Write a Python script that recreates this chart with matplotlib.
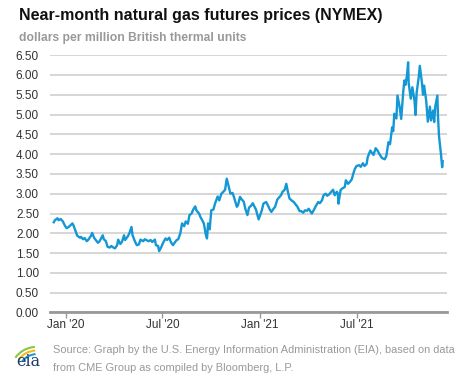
import matplotlib
matplotlib.use("Agg")
import matplotlib.pyplot as plt
from matplotlib.patches import Arc
import pandas as pd

plt.rcParams['font.family'] = ['Liberation Sans', 'DejaVu Sans']

# near-month NYMEX natural gas futures, $/MMBtu
dates = [
    "2019-12-10", "2019-12-12", "2019-12-17", "2019-12-19", "2019-12-23", "2019-12-27", "2019-12-31",
    "2020-01-03", "2020-01-07", "2020-01-10", "2020-01-14", "2020-01-16", "2020-01-21", "2020-01-23",
    "2020-01-28", "2020-01-30", "2020-02-03", "2020-02-06", "2020-02-10", "2020-02-13", "2020-02-18",
    "2020-02-20", "2020-02-24", "2020-02-27", "2020-03-02", "2020-03-05", "2020-03-09", "2020-03-11",
    "2020-03-13", "2020-03-17", "2020-03-20", "2020-03-24", "2020-03-27", "2020-03-31", "2020-04-03",
    "2020-04-07", "2020-04-09", "2020-04-13", "2020-04-16", "2020-04-20", "2020-04-22", "2020-04-27",
    "2020-04-30", "2020-05-04", "2020-05-06", "2020-05-11", "2020-05-14", "2020-05-18", "2020-05-21",
    "2020-05-26", "2020-05-29", "2020-06-02", "2020-06-05", "2020-06-09", "2020-06-12", "2020-06-17",
    "2020-06-19", "2020-06-23", "2020-06-25", "2020-06-29", "2020-07-02", "2020-07-07", "2020-07-10",
    "2020-07-14", "2020-07-17", "2020-07-21", "2020-07-24", "2020-07-28", "2020-07-31", "2020-08-04",
    "2020-08-07", "2020-08-11", "2020-08-14", "2020-08-18", "2020-08-21", "2020-08-25", "2020-08-28",
    "2020-09-01", "2020-09-03", "2020-09-08", "2020-09-11", "2020-09-14", "2020-09-17", "2020-09-21",
    "2020-09-23", "2020-09-25", "2020-09-28", "2020-10-01", "2020-10-05", "2020-10-08", "2020-10-13",
    "2020-10-16", "2020-10-20", "2020-10-23", "2020-10-27", "2020-10-30", "2020-11-03", "2020-11-06",
    "2020-11-10", "2020-11-13", "2020-11-18", "2020-11-20", "2020-11-24", "2020-11-27", "2020-12-01",
    "2020-12-04", "2020-12-08", "2020-12-11", "2020-12-15", "2020-12-18", "2020-12-22", "2020-12-24",
    "2020-12-29", "2021-01-04", "2021-01-07", "2021-01-12", "2021-01-15", "2021-01-19", "2021-01-22",
    "2021-01-26", "2021-01-29", "2021-02-02", "2021-02-05", "2021-02-09", "2021-02-12", "2021-02-16",
    "2021-02-19", "2021-02-22", "2021-02-25", "2021-03-01", "2021-03-05", "2021-03-09", "2021-03-12",
    "2021-03-16", "2021-03-19", "2021-03-23", "2021-03-26", "2021-03-30", "2021-04-02", "2021-04-08",
    "2021-04-13", "2021-04-16", "2021-04-20", "2021-04-23", "2021-04-27", "2021-04-30", "2021-05-04",
    "2021-05-07", "2021-05-11", "2021-05-14", "2021-05-18", "2021-05-21", "2021-05-25", "2021-05-27",
    "2021-05-28", "2021-06-01", "2021-06-04", "2021-06-09", "2021-06-11", "2021-06-15", "2021-06-18",
    "2021-06-22", "2021-06-25", "2021-06-28", "2021-07-01", "2021-07-06", "2021-07-09", "2021-07-13",
    "2021-07-16", "2021-07-20", "2021-07-22", "2021-07-27", "2021-07-29", "2021-08-02", "2021-08-06",
    "2021-08-10", "2021-08-13", "2021-08-18", "2021-08-23", "2021-08-26", "2021-08-30", "2021-09-02",
    "2021-09-06", "2021-09-08", "2021-09-10", "2021-09-14", "2021-09-16", "2021-09-20", "2021-09-23",
    "2021-09-27", "2021-09-29", "2021-10-01", "2021-10-04", "2021-10-06", "2021-10-07", "2021-10-11",
    "2021-10-14", "2021-10-18", "2021-10-20", "2021-10-22", "2021-10-26", "2021-10-28", "2021-11-01",
    "2021-11-03", "2021-11-05", "2021-11-09", "2021-11-12", "2021-11-16", "2021-11-18", "2021-11-22",
    "2021-11-24", "2021-11-26", "2021-11-30", "2021-12-01", "2021-12-03", "2021-12-06", "2021-12-07",
    "2021-12-09", "2021-12-10",
]
prices = [
    2.28, 2.33, 2.38, 2.33, 2.36, 2.30, 2.19,
    2.13, 2.16, 2.20, 2.25, 2.20, 2.02, 1.94,
    1.89, 1.91, 1.85, 1.88, 1.80, 1.84, 1.94,
    2.01, 1.88, 1.83, 1.76, 1.80, 1.90, 1.95,
    1.85, 1.80, 1.66, 1.64, 1.68, 1.64, 1.62,
    1.70, 1.84, 1.73, 1.78, 1.95, 1.83, 1.92,
    2.00, 2.16, 1.95, 1.78, 1.70, 1.72, 1.84,
    1.80, 1.85, 1.82, 1.80, 1.83, 1.78, 1.84,
    1.70, 1.68, 1.55, 1.65, 1.75, 1.87, 1.83,
    1.89, 1.78, 1.70, 1.76, 1.83, 1.85, 2.01,
    2.25, 2.18, 2.30, 2.24, 2.46, 2.50, 2.60,
    2.68, 2.58, 2.50, 2.40, 2.33, 2.25, 1.95,
    1.87, 2.25, 2.10, 2.58, 2.60, 2.75, 2.93,
    2.83, 3.00, 3.04, 3.10, 3.38, 3.17, 3.00,
    3.02, 2.90, 2.67, 2.70, 2.92, 2.86, 2.80,
    2.62, 2.46, 2.65, 2.70, 2.76, 2.65, 2.60,
    2.35, 2.58, 2.75, 2.79, 2.72, 2.60, 2.54,
    2.62, 2.67, 2.85, 2.90, 2.96, 3.05, 3.10,
    3.25, 3.05, 2.88, 2.83, 2.79, 2.72, 2.67,
    2.56, 2.56, 2.52, 2.58, 2.57, 2.62, 2.50,
    2.62, 2.70, 2.79, 2.76, 2.83, 2.96, 3.00,
    2.95, 2.99, 3.04, 3.10, 2.96, 3.05, 3.00,
    2.75, 3.09, 3.13, 3.17, 3.34, 3.25, 3.29,
    3.36, 3.51, 3.63, 3.70, 3.72, 3.68, 3.77,
    3.70, 3.75, 3.92, 4.09, 4.05, 3.98, 4.15,
    4.08, 4.00, 3.90, 3.87, 3.95, 4.30, 4.25,
    4.68, 4.58, 5.02, 4.90, 5.48, 5.20, 4.89,
    5.60, 5.86, 5.75, 6.00, 6.32, 5.80, 5.40,
    5.69, 5.35, 4.99, 5.55, 5.95, 6.23, 5.80,
    5.50, 5.73, 5.35, 4.82, 5.20, 4.85, 5.10,
    4.81, 5.20, 5.48, 5.00, 4.47, 4.10, 3.97,
    3.67, 3.82,
]
tick_dates = ["2020-01-01", "2020-07-01", "2021-01-01", "2021-07-01"]
tick_labels = ["Jan '20", "Jul '20", "Jan '21", "Jul '21"]
y_ticks = [0.0, 0.5, 1.0, 1.5, 2.0, 2.5, 3.0, 3.5, 4.0, 4.5, 5.0, 5.5, 6.0, 6.5]

fig = plt.figure(figsize=(4.77, 3.79), dpi=100)
ax = fig.add_axes([0.105, 0.1755, 0.832, 0.679])

ax.plot(pd.to_datetime(dates), prices, color='#1397d5', lw=1.7, solid_joinstyle='round')

ax.set_ylim(0, 6.5)
ax.set_xlim(pd.Timestamp("2019-12-03"), pd.Timestamp("2021-12-18"))
ax.set_yticks(y_ticks)
ax.set_yticklabels([f"{v:.2f}" for v in y_ticks])
ax.set_xticks(pd.to_datetime(tick_dates))
ax.set_xticklabels(tick_labels)

ax.grid(axis='y', color='#d6d6d6', lw=1.4)
ax.set_axisbelow(True)
for side in ['top', 'right', 'left']:
    ax.spines[side].set_visible(False)
ax.spines['bottom'].set_color('#999999')
ax.spines['bottom'].set_linewidth(2)
ax.tick_params(axis='y', length=0, pad=8, labelsize=8.5, labelcolor='#333333')
ax.tick_params(axis='x', length=4, width=1, color='#999999', pad=1, labelsize=8.5, labelcolor='#333333')

fig.text(0.04, 0.958, "Near-month natural gas futures prices (NYMEX)", fontsize=11.5,
         fontweight='bold', color='#111111', va='center')
fig.text(0.04, 0.9, "dollars per million British thermal units", fontsize=8.7,
         fontweight='bold', color='#999999', va='center')

fig.text(0.111, 0.077, "Source: Graph by the U.S. Energy Information Administration (EIA), based on data",
         fontsize=7.9, color='#999999', va='center')
fig.text(0.111, 0.03, "from CME Group as compiled by Bloomberg, L.P.",
         fontsize=7.9, color='#999999', va='center')

# eia logo
lax = fig.add_axes([0.025, 0.02, 0.07, 0.085])
lax.set_xlim(0, 1)
lax.set_ylim(0, 1)
lax.axis('off')
lax.text(0.5, 0.05, "eia", fontsize=11.5, family='DejaVu Serif', color='#1a3a6e',
         ha='center', va='bottom')
for r, col in [(0.95, '#8cc63f'), (0.8, '#f7b719'), (0.65, '#1a9ad6')]:
    lax.add_patch(Arc((0.75, 0.05), r * 1.6, r * 1.5, theta1=95, theta2=150, color=col, lw=1.5))

fig.savefig("out.png", dpi=100)
